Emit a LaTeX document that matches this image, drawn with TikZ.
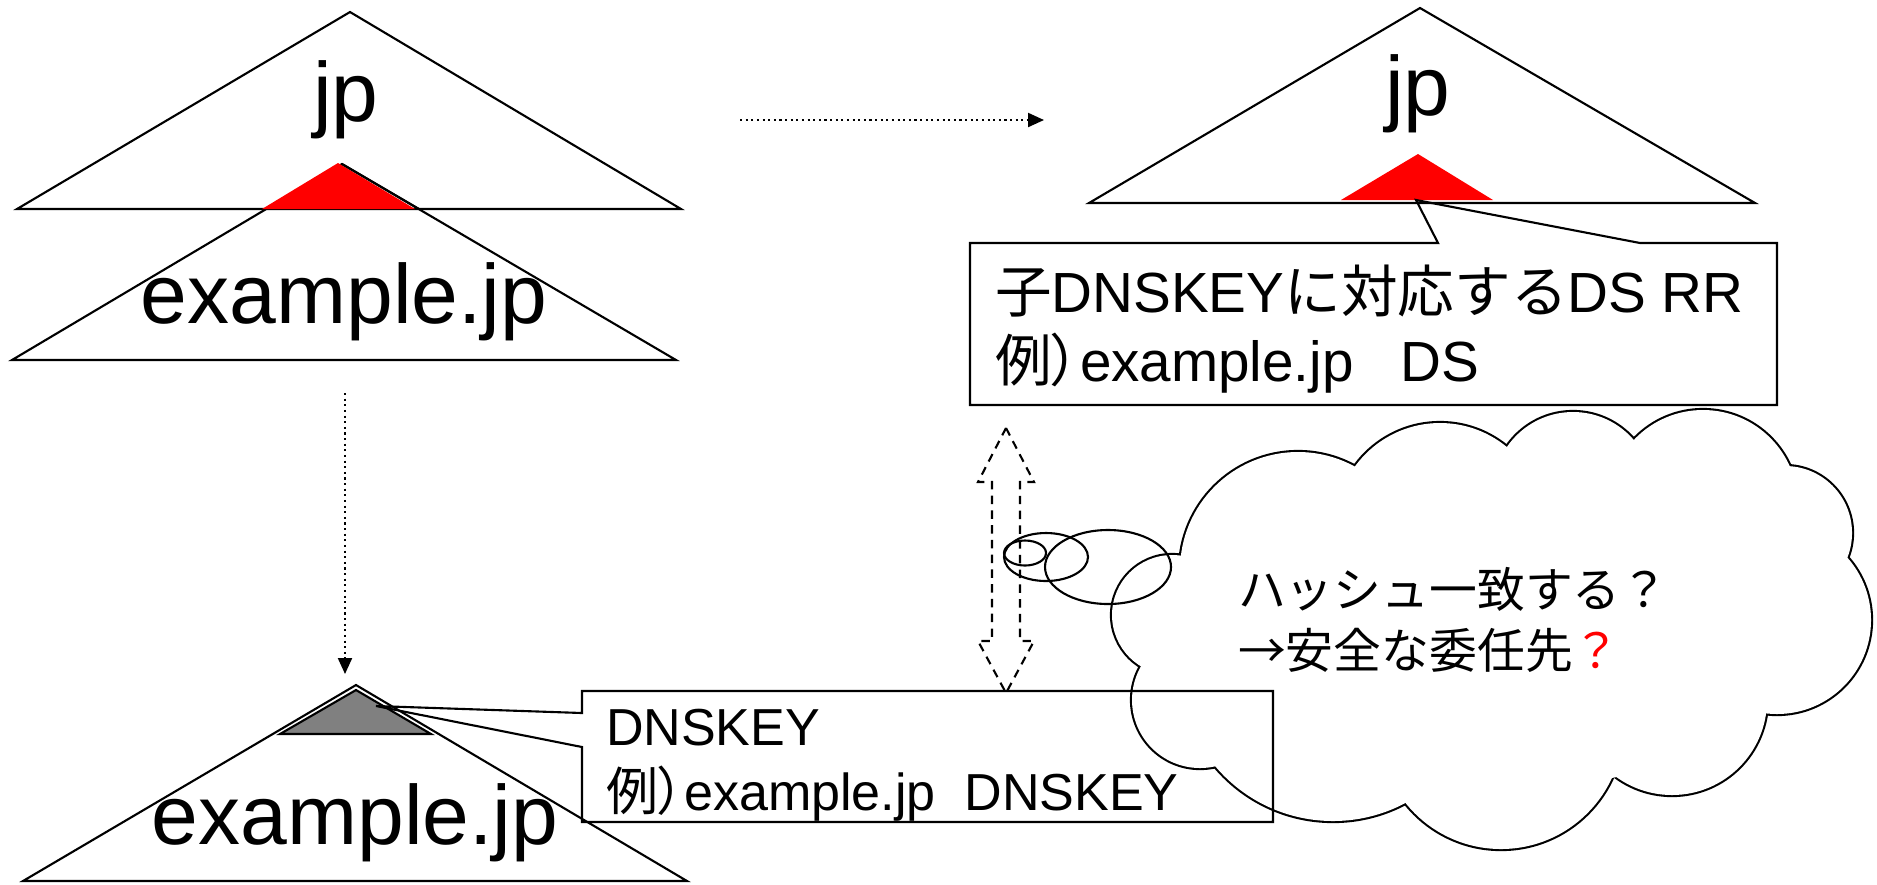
\documentclass[tikz,border=0pt]{standalone}
\usepackage{fontspec}
\setmainfont{Liberation Sans}
\newfontfamily\jpfont{Noto Sans CJK JP}
\newfontfamily\jpnarrow[RawFeature=+palt]{Noto Sans CJK JP}
\usetikzlibrary{arrows.meta}

\begin{document}
\begin{tikzpicture}[x=0.01cm, y=-0.01cm, line width=0.6pt,
  zone/.style={draw, line join=miter},
  zonelabel/.style={anchor=base, inner sep=0pt, font=\fontsize{23.9}{28}\selectfont},
  hop/.style={densely dotted, -{Triangle[length=1.6mm, width=1.4mm]}},
  notetext/.style={anchor=base west, inner sep=0pt, font=\fontsize{16.1}{19}\selectfont},
  keytext/.style={anchor=base west, inner sep=0pt, font=\fontsize{14.8}{18}\selectfont},
  thinktext/.style={anchor=base west, inner sep=0pt, font=\jpfont\fontsize{13.6}{17}\selectfont}]

  \useasboundingbox (0,0) rectangle (1877,884);

  % parent zone jp with the child zone example.jp under it
  \draw[zone] (17,209) -- (350,12) -- (681,209) -- cycle;
  \draw[zone] (12,360) -- (342,164) -- (676,360) -- cycle;
  \fill[red] (262,209) -- (338,163) -- (415,209) -- cycle;
  \draw (342,164) -- (419,209);
  \node[zonelabel] (jpleft)  at (346,121) {jp};
  \node[zonelabel] (exupper) at (344,323) {example.jp};

  % the parent again, holding the DS record
  \draw[zone] (1089,203) -- (1420,8) -- (1755,203) -- cycle;
  \fill[red] (1341,200) -- (1418,154) -- (1493,200) -- cycle;
  \node[zonelabel] (jpright) at (1418,115) {jp};

  % the child with its key
  \draw[zone] (23,881) -- (356,685) -- (687,881) -- cycle;
  \filldraw[fill=gray] (280,734) -- (356,690) -- (431,734) -- cycle;
  \node[zonelabel] (exlower) at (355,844) {example.jp};

  % lookup steps
  \coordinate (hopA) at (740,120);
  \coordinate (hopB) at (1044,120);
  \coordinate (hopC) at (345,393);
  \coordinate (hopD) at (345,674);
  \draw[hop] (hopA) -- (hopB);
  \draw[hop] (hopC) -- (hopD);

  % compare DS against DNSKEY
  \draw[dash pattern=on 2.4pt off 1.8pt] (1006,428) -- (1034,482) -- (1020,482)
    -- (1020,641) -- (1034,641) -- (1006,693) -- (978,641) -- (992,641)
    -- (992,482) -- (978,482) -- cycle;

  % thought cloud: stroke the puffs, then blank their insides
  \foreach \cx/\cy/\r in {1298/570/118, 1440/528/105, 1573/492/80, 1703/505/95,
      1785/533/67, 1777/620/94, 1672/700/95, 1501/727/122, 1333/667/154,
      1200/700/68, 1172/615/60}
    \draw[line width=1.2pt] (\cx,\cy) circle[radius=\r];
  \foreach \cx/\cy/\r in {1298/570/118, 1440/528/105, 1573/492/80, 1703/505/95,
      1785/533/67, 1777/620/94, 1672/700/95, 1501/727/122, 1333/667/154,
      1200/700/68, 1172/615/60}
    \fill[white] (\cx,\cy) circle[radius=\r];
  \fill[white] (1490,630) ellipse[x radius=320, y radius=160];

  \draw (1025,553) ellipse[x radius=21, y radius=12.5];
  \draw (1046,557) ellipse[x radius=42, y radius=24];
  \draw (1108,567) ellipse[x radius=63, y radius=37];

  \node[thinktext] (askline)    at (1237,607) {ハッシュ一致する？};
  \node[thinktext] (answerline) at (1237,668) {→安全な委任先\textcolor{red}{？}};

  % DS callout
  \coordinate (dstip) at (1416,200);
  \draw (970,243) -- (1438,243) -- (dstip) -- (1640,243) -- (1777,243)
    -- (1777,405) -- (970,405) -- cycle;
  \node[notetext] (dsline1) at (994,312) {{\jpfont 子}DNSKEY{\jpfont に対応する}DS RR};
  \node[notetext] (dsline2) at (994,381) {{\jpnarrow 例）}example.jp~~~DS};

  % DNSKEY callout
  \coordinate (keytip) at (376,706);
  \draw (582,713) -- (582,691) -- (1273,691) -- (1273,822) -- (582,822)
    -- (582,747) -- (keytip) -- cycle;
  \node[keytext] (keyline1) at (605,745) {DNSKEY};
  \node[keytext] (keyline2) at (605,810) {{\jpnarrow 例）}example.jp~~DNSKEY};
\end{tikzpicture}
\end{document}
